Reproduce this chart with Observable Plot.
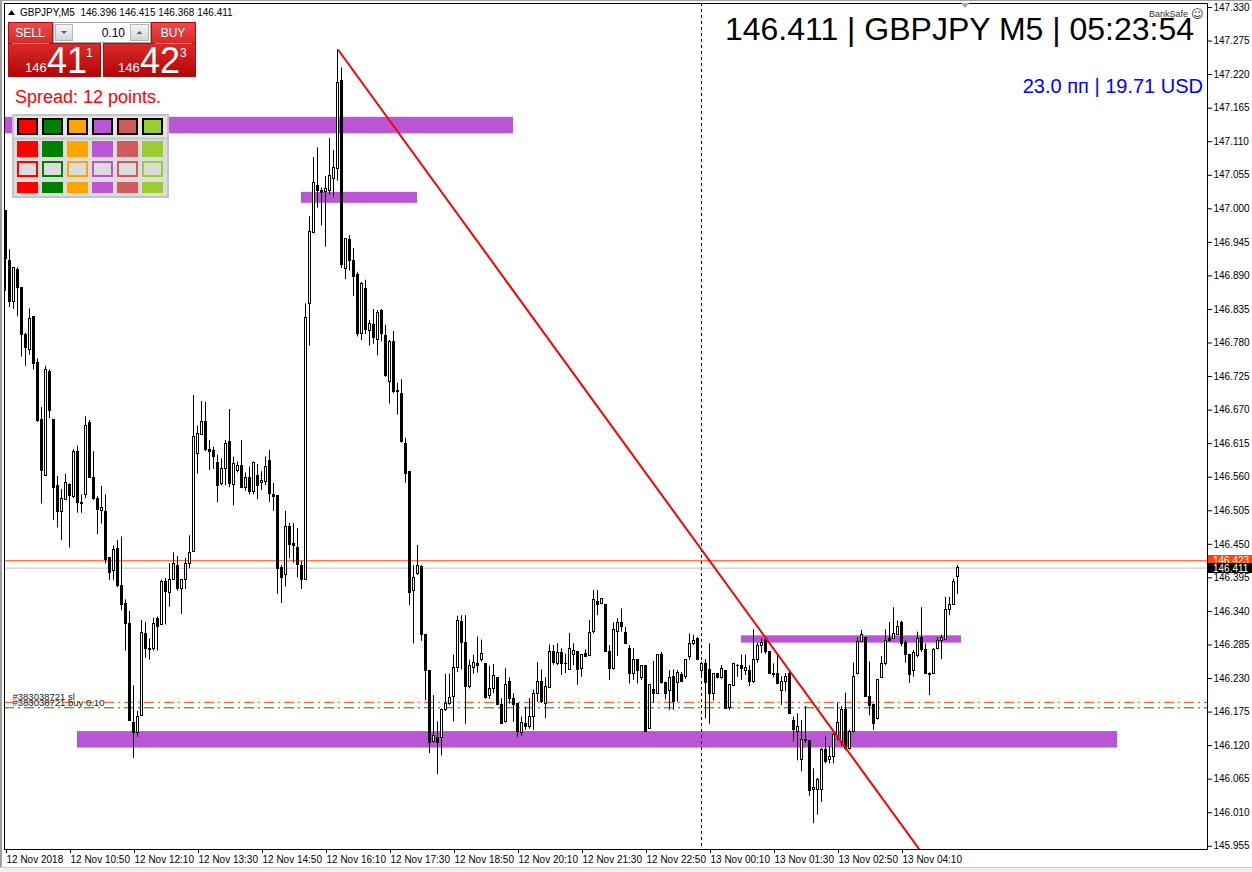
<!DOCTYPE html>
<html><head><meta charset="utf-8">
<script src="https://cdn.jsdelivr.net/npm/d3@7"></script>
<script src="https://cdn.jsdelivr.net/npm/@observablehq/plot@0.6"></script>
<style>
html,body{margin:0;padding:0;background:#fff;}
#wrap{position:relative;width:1252px;height:872px;overflow:hidden;}
#chart,#deco{position:absolute;left:0;top:0;}
#deco{pointer-events:none;}
</style></head>
<body><div id="wrap"><div id="chart"></div><svg id="deco" width="1252" height="872"></svg></div>
<script>
// ---- candle data (GBPJPY M5, 12 Nov 2018 09:30 -> 13 Nov 05:20) ----
const opens = [146.996,146.915,146.847,146.900,146.871,146.793,146.769,146.822,146.747,146.653,146.562,146.733,146.653,146.546,146.503,146.522,146.548,146.528,146.602,146.516,146.531,146.649,146.559,146.525,146.504,146.503,146.427,146.406,146.443,146.382,146.352,146.319,146.157,146.140,146.169,146.303,146.279,146.278,146.328,146.318,146.389,146.370,146.391,146.415,146.376,146.391,146.418,146.437,146.598,146.629,146.651,146.605,146.603,146.584,146.549,146.573,146.617,146.547,146.570,146.579,146.543,146.558,146.535,146.562,146.550,146.552,146.586,146.531,146.529,146.411,146.399,146.479,146.451,146.444,146.415,146.391,146.844,146.960,147.038,147.029,147.028,147.030,147.049,147.065,147.210,146.902,146.949,146.915,146.892,146.794,146.869,146.800,146.809,146.785,146.833,146.792,146.716,146.781,146.702,146.697,146.614,146.568,146.374,146.401,146.413,146.301,146.243,146.126,146.132,146.132,146.178,146.189,146.200,146.248,146.323,146.289,146.216,146.248,146.254,146.260,146.254,146.202,146.213,146.231,146.187,146.158,146.225,146.197,146.189,146.141,146.156,146.150,146.167,146.205,146.225,146.189,146.215,146.274,146.254,146.272,146.254,146.244,146.268,146.273,146.246,146.270,146.267,146.306,146.355,146.352,146.350,146.273,146.246,146.306,146.321,146.304,146.279,146.238,146.261,146.231,146.250,146.148,146.211,146.205,146.269,146.223,146.209,146.232,146.222,146.236,146.232,146.265,146.287,146.294,146.242,146.254,146.244,146.205,146.238,146.231,146.243,146.181,146.217,146.251,146.250,146.243,146.243,146.224,146.260,146.284,146.293,146.274,146.237,146.237,146.209,146.225,146.237,146.161,146.143,146.097,146.130,146.128,146.047,146.047,146.047,146.113,146.097,146.101,146.134,146.124,146.178,146.115,146.142,146.237,146.290,146.297,146.200,146.186,146.164,146.231,146.254,146.295,146.295,146.302,146.321,146.289,146.268,146.242,146.267,146.297,146.277,146.238,146.238,146.279,146.291,146.293,146.342,146.351,146.396];
const highs = [146.996,146.933,146.903,146.903,146.871,146.796,146.836,146.822,146.754,146.674,146.742,146.736,146.653,146.561,146.540,146.565,146.549,146.605,146.611,146.531,146.659,146.653,146.602,146.528,146.545,146.531,146.427,146.447,146.456,146.462,146.359,146.340,146.218,146.176,146.325,146.322,146.295,146.329,146.331,146.391,146.394,146.418,146.436,146.430,146.391,146.427,146.464,146.694,146.644,146.684,146.683,146.620,146.609,146.596,146.590,146.620,146.671,146.593,146.585,146.620,146.567,146.577,146.585,146.581,146.569,146.593,146.604,146.550,146.529,146.415,146.504,146.484,146.484,146.476,146.422,146.844,146.987,147.084,147.100,147.034,147.053,147.115,147.096,147.261,147.231,146.950,146.956,146.935,146.896,146.879,146.883,146.817,146.835,146.833,146.835,146.809,146.784,146.799,146.714,146.720,146.624,146.568,146.415,146.448,146.415,146.301,146.243,146.202,146.159,146.180,146.237,146.237,146.268,146.332,146.333,146.333,146.260,146.268,146.298,146.293,146.254,146.250,146.253,146.231,146.197,146.246,146.231,146.205,146.189,146.167,146.183,146.197,146.211,146.256,146.244,146.231,146.285,146.284,146.287,146.279,146.270,146.304,146.287,146.273,146.269,146.277,146.325,146.374,146.374,146.361,146.350,146.284,146.321,146.328,146.344,146.314,146.284,146.279,146.261,146.251,146.250,146.220,146.258,146.268,146.273,146.224,146.243,146.244,146.243,146.240,146.261,146.303,146.301,146.297,146.257,146.261,146.287,146.238,146.238,146.251,146.243,146.219,146.255,146.253,146.268,146.268,146.251,146.310,146.288,146.295,146.297,146.274,146.254,146.270,146.233,146.238,146.240,146.167,146.172,146.161,146.184,146.128,146.082,146.066,146.115,146.134,146.118,146.139,146.190,146.184,146.206,146.145,146.255,146.297,146.309,146.297,146.257,146.188,146.228,146.266,146.310,146.322,146.346,146.324,146.324,146.292,146.268,146.276,146.306,146.346,146.287,146.239,146.279,146.297,146.301,146.363,146.363,146.393,146.415];
const lows = [146.865,146.838,146.835,146.823,146.757,146.742,146.760,146.736,146.650,146.516,146.561,146.656,146.489,146.477,146.456,146.522,146.444,146.525,146.501,146.501,146.525,146.558,146.522,146.466,146.483,146.418,146.391,146.391,146.379,146.341,146.275,146.160,146.099,146.134,146.169,146.263,146.260,146.275,146.275,146.318,146.318,146.347,146.391,146.373,146.335,146.376,146.410,146.437,146.565,146.629,146.602,146.571,146.573,146.518,146.546,146.546,146.543,146.513,146.567,146.543,146.537,146.531,146.531,146.523,146.538,146.546,146.519,146.504,146.368,146.353,146.380,146.426,146.419,146.395,146.376,146.391,146.775,146.959,147.001,146.972,146.937,147.022,147.018,147.045,146.902,146.884,146.898,146.856,146.790,146.784,146.794,146.775,146.778,146.759,146.782,146.724,146.680,146.697,146.662,146.616,146.550,146.349,146.287,146.399,146.291,146.194,146.107,146.124,146.072,146.103,146.176,146.186,146.159,146.240,146.244,146.155,146.213,146.237,146.239,146.257,146.196,146.196,146.205,146.186,146.155,146.157,146.188,146.158,146.133,146.135,146.145,146.147,146.145,146.191,146.189,146.164,146.215,146.252,146.251,146.235,146.238,146.243,146.251,146.219,146.232,146.265,146.267,146.303,146.333,146.351,146.273,146.227,146.244,146.266,146.306,146.286,146.221,146.227,146.221,146.227,146.142,146.148,146.189,146.205,146.221,146.195,146.178,146.178,146.191,146.224,146.229,146.260,146.284,146.260,146.235,146.164,146.155,146.193,146.229,146.229,146.180,146.178,146.217,146.232,146.227,146.235,146.217,146.222,146.255,146.271,146.270,146.237,146.231,146.220,146.186,146.208,146.172,146.126,146.095,146.077,146.124,146.037,145.992,146.006,146.027,146.090,146.090,146.090,146.128,146.118,146.112,146.113,146.141,146.236,146.290,146.200,146.169,146.145,146.162,146.230,146.251,146.290,146.295,146.301,146.282,146.255,146.222,146.232,146.264,146.273,146.237,146.202,146.237,146.277,146.261,146.292,146.333,146.350,146.368];
const closes = [146.918,146.847,146.903,146.871,146.793,146.772,146.820,146.745,146.652,146.570,146.735,146.668,146.543,146.503,146.524,146.550,146.530,146.602,146.518,146.517,146.644,146.559,146.525,146.507,146.510,146.425,146.403,146.441,146.382,146.351,146.320,146.160,146.140,146.167,146.304,146.279,146.276,146.319,146.315,146.389,146.372,146.391,146.418,146.376,146.391,146.418,146.436,146.626,146.631,146.651,146.604,146.602,146.593,146.546,146.573,146.615,146.549,146.581,146.579,146.543,146.558,146.535,146.583,146.546,146.554,146.577,146.532,146.527,146.409,146.395,146.479,146.449,146.447,146.416,146.391,146.821,146.962,147.042,147.030,147.026,147.033,147.053,147.067,147.206,146.908,146.950,146.915,146.889,146.794,146.877,146.802,146.811,146.788,146.830,146.794,146.726,146.782,146.699,146.700,146.617,146.566,146.370,146.395,146.415,146.302,146.243,146.124,146.136,146.124,146.178,146.188,146.198,146.247,146.324,146.289,146.216,146.250,146.256,146.250,146.270,146.198,146.213,146.234,146.187,146.156,146.220,146.197,146.187,146.142,146.157,146.150,146.167,146.205,146.225,146.191,146.216,146.274,146.255,146.272,146.254,146.253,146.279,146.275,146.244,146.269,146.265,146.305,146.358,146.350,146.360,146.273,146.246,146.310,146.321,146.314,146.287,146.238,146.261,146.242,146.250,146.142,146.220,146.205,146.268,146.222,146.204,146.231,146.191,146.239,146.224,146.260,146.287,146.292,146.260,146.254,146.222,146.205,146.238,146.231,146.246,146.180,146.219,146.253,146.250,146.246,146.248,146.224,146.261,146.284,146.289,146.273,146.237,146.236,146.221,146.225,146.233,146.172,146.145,146.151,146.130,146.128,146.045,146.051,146.063,146.113,146.093,146.102,146.137,146.157,146.178,146.115,146.142,146.232,146.290,146.301,146.200,146.185,146.156,146.227,146.254,146.292,146.291,146.303,146.315,146.287,146.268,146.236,146.272,146.295,146.277,146.238,146.236,146.277,146.292,146.296,146.342,146.351,146.388,146.411];

// ---- axis ticks ----
const yTicks = [147.330,147.275,147.220,147.165,147.110,147.055,147.000,146.945,146.890,146.835,146.780,146.725,146.670,146.615,146.560,146.505,146.450,146.395,146.340,146.285,146.230,146.175,146.120,146.065,146.010,145.955];
const xTickIdx = [0,16,32,48,64,80,96,112,128,144,160,176,192,208,224];
const xTickLabels = ["12 Nov 2018","12 Nov 10:50","12 Nov 12:10","12 Nov 13:30","12 Nov 14:50","12 Nov 16:10","12 Nov 17:30","12 Nov 18:50","12 Nov 20:10","12 Nov 21:30","12 Nov 22:50","13 Nov 00:10","13 Nov 01:30","13 Nov 02:50","13 Nov 04:10"];

// ---- objects ----
const zoneStart = [0, 74, 184, 18];
const zoneEnd = [127, 103, 239, 278];
const zoneTop = [147.150, 147.027, 146.300, 146.143];
const zoneBottom = [147.123, 147.009, 146.288, 146.116];
const trendIdx = [83.25, 228.45];
const trendPrice = [147.260, 145.950];
const daySeparatorIdx = [174];
const orderLabels = ["#383038721 sl", "#383038721 buy 0.10"];
const orderPrices = [146.191, 146.182];
const orderColors = ["#FF4500", "#008000"];
const askPrice = 146.423, bidPrice = 146.411;
const paletteColors = ["#FF0000","#008000","#FFA500","#BA55D3","#CD5C5C","#9ACD32"];

const candles = opens.map((o, i) => ({i, o, h: highs[i], l: lows[i], c: closes[i]}));
const zones = zoneStart.map((s, k) => ({x1: s, x2: zoneEnd[k], y1: zoneTop[k], y2: zoneBottom[k]}));
const trend = trendIdx.map((x, k) => ({x, y: trendPrice[k]}));
const orders = orderLabels.map((t, k) => ({t, p: orderPrices[k], col: orderColors[k]}));

const FONT = "'Liberation Sans', Arial, sans-serif";
const chart = Plot.plot({
  width: 1252, height: 872,
  marginLeft: 4, marginRight: 45, marginTop: 3, marginBottom: 23,
  x: {type: "linear", domain: [-0.25, 300.5], axis: null},
  y: {type: "linear", domain: [145.9497, 147.3366], axis: null},
  style: {background: "transparent", fontFamily: FONT, fontSize: "10px", color: "black"},
  marks: [
    Plot.rect(zones, {x1: "x1", x2: "x2", y1: "y1", y2: "y2", fill: "#BA55D3"}),
    Plot.ruleX(daySeparatorIdx, {stroke: "black", strokeDasharray: "3,3"}),
    Plot.ruleY(orders, {y: "p", stroke: "col", strokeDasharray: "10,4,2,4"}),
    Plot.ruleY([bidPrice], {stroke: "#C0C0C0"}),
    Plot.ruleY([askPrice], {stroke: "#FF4500"}),
    Plot.ruleX(candles, {x: "i", y1: "l", y2: "h", stroke: "black"}),
    Plot.rect(candles, {x1: d => d.i - 0.25, x2: d => d.i + 0.25, y1: "o", y2: "c",
      fill: d => d.c >= d.o ? "white" : "black", stroke: "black", shapeRendering: "crispEdges"}),
    Plot.line(trend, {x: "x", y: "y", stroke: "#FF0000", strokeWidth: 2, clip: true}),
    Plot.text(orders, {x: 1.75, y: "p", text: "t", textAnchor: "start", dy: -5, fontSize: 9.5, fill: "#222"}),
    Plot.frame({stroke: "black"}),
    Plot.axisY(yTicks, {anchor: "right", tickSize: 4, tickPadding: 2, tickFormat: d => d.toFixed(3), label: null, fontSize: 10}),
    Plot.axisX(xTickIdx, {anchor: "bottom", tickSize: 4, tickPadding: 2, textAnchor: "start", dx: 1,
      tickFormat: d => xTickLabels[xTickIdx.indexOf(d)], label: null, fontSize: 10})
  ]
});
document.getElementById("chart").appendChild(chart);

// ---- price tags on the right axis (placed with the chart's y scale) ----
const ys = chart.scale("y");
const svg = d3.select(chart);
[[askPrice, "#FF4500"], [bidPrice, "#000000"]].forEach(([p, col]) => {
  const y = Math.round(ys.apply(p));
  svg.append("rect").attr("x", 1208).attr("y", y - 5).attr("width", 44).attr("height", 10).attr("fill", col);
  svg.append("text").attr("x", 1213).attr("y", y + 4).attr("fill", "white").attr("font-size", 10)
    .attr("text-anchor", "start").attr("font-family", FONT).text(p.toFixed(3));
});

// ---- terminal decorations ----
const deco = d3.select("#deco");
const defs = deco.append("defs");
function grad(id, stops) {
  const g = defs.append("linearGradient").attr("id", id).attr("x1", 0).attr("y1", 0).attr("x2", 0).attr("y2", 1);
  stops.forEach(([o, c]) => g.append("stop").attr("offset", o).attr("stop-color", c));
}
grad("gBtn", [[0, "#ec4b4b"], [1, "#d52a2a"]]);
grad("gPrice", [[0, "#dc2a2a"], [1, "#b00606"]]);
grad("gGray", [[0, "#f6f6f6"], [1, "#d4d4d4"]]);
function txt(x, y, s, size, fill, anchor, family) {
  return deco.append("text").attr("x", x).attr("y", y).attr("font-size", size).attr("fill", fill)
    .attr("text-anchor", anchor || "start").attr("font-family", family || FONT).style("white-space", "pre").text(s);
}
// window borders
deco.append("rect").attr("x", 0).attr("y", 0).attr("width", 2).attr("height", 872).attr("fill", "#a0a0a0");
deco.append("rect").attr("x", 0).attr("y", 0).attr("width", 1252).attr("height", 1).attr("fill", "#a0a0a0");
deco.append("rect").attr("x", 0).attr("y", 867).attr("width", 1252).attr("height", 5).attr("fill", "#f0f0f0");
deco.append("rect").attr("x", 0).attr("y", 867).attr("width", 1252).attr("height", 1).attr("fill", "#c8c8c8");
// header
deco.append("path").attr("d", "M8,15 L11.5,10 L15,15 Z").attr("fill", "black");
txt(20, 16, "GBPJPY,M5  146.396 146.415 146.368 146.411", 10, "black");
deco.append("path").attr("d", "M961,3 L969,3 L965,8 Z").attr("fill", "#a8a8a8");
// one click trading
deco.append("rect").attr("x", 8.5).attr("y", 22.5).attr("width", 44).attr("height", 21).attr("fill", "url(#gBtn)").attr("stroke", "#a81010");
deco.append("rect").attr("x", 151.5).attr("y", 22.5).attr("width", 44).attr("height", 21).attr("fill", "url(#gBtn)").attr("stroke", "#a81010");
deco.append("rect").attr("x", 8.5).attr("y", 43.5).attr("width", 92).attr("height", 33).attr("fill", "url(#gPrice)").attr("stroke", "#a81010");
deco.append("rect").attr("x", 103.5).attr("y", 43.5).attr("width", 92).attr("height", 33).attr("fill", "url(#gPrice)").attr("stroke", "#a81010");
deco.append("line").attr("x1", 12).attr("x2", 49).attr("y1", 43.5).attr("y2", 43.5).attr("stroke", "#f08080");
deco.append("line").attr("x1", 155).attr("x2", 192).attr("y1", 43.5).attr("y2", 43.5).attr("stroke", "#f08080");
txt(30, 37, "SELL", 12, "white", "middle");
txt(173, 37, "BUY", 12, "white", "middle");
deco.append("rect").attr("x", 53.5).attr("y", 22.5).attr("width", 97).attr("height", 20).attr("fill", "white").attr("stroke", "#a8a8a8");
deco.append("rect").attr("x", 55.5).attr("y", 24.5).attr("width", 17).attr("height", 16).attr("fill", "url(#gGray)").attr("stroke", "#b8b8b8");
deco.append("rect").attr("x", 130.5).attr("y", 24.5).attr("width", 18).attr("height", 16).attr("fill", "url(#gGray)").attr("stroke", "#b8b8b8");
deco.append("path").attr("d", "M61,31 L67,31 L64,34 Z").attr("fill", "#4a5ca8");
deco.append("path").attr("d", "M136.5,34 L142.5,34 L139.5,31 Z").attr("fill", "#4a5ca8");
txt(125, 37, "0.10", 12, "black", "end");
txt(25, 72, "146", 13, "white");
txt(47, 73, "41", 36, "white");
txt(86, 57, "1", 12, "white");
txt(118, 72, "146", 13, "white");
txt(140, 73, "42", 36, "white");
txt(180, 57, "3", 12, "white");
txt(15, 103, "Spread: 12 points.", 18, "#FF0000");
// colour palette
deco.append("rect").attr("x", 13).attr("y", 115).attr("width", 155).attr("height", 82).attr("fill", "#dcdcdc").attr("stroke", "#c4c4c4").attr("stroke-width", 2);
deco.append("rect").attr("x", 14).attr("y", 116).attr("width", 153).attr("height", 22).attr("fill", "#e4e4e4");
deco.append("line").attr("x1", 14).attr("x2", 167).attr("y1", 138.5).attr("y2", 138.5).attr("stroke", "#c4c4c4").attr("stroke-width", 2);
paletteColors.forEach((c, k) => {
  const x = 17 + 25 * k;
  deco.append("rect").attr("x", x + 1).attr("y", 119).attr("width", 19).attr("height", 15).attr("fill", c).attr("stroke", "black").attr("stroke-width", 2);
  deco.append("rect").attr("x", x).attr("y", 141).attr("width", 21).attr("height", 16).attr("fill", c);
  deco.append("rect").attr("x", x + 1).attr("y", 162).attr("width", 19).attr("height", 14).attr("fill", "#dcdcdc").attr("stroke", c).attr("stroke-width", 2);
  deco.append("rect").attr("x", x).attr("y", 182).attr("width", 21).attr("height", 11).attr("fill", c);
});
// info texts (top right)
txt(1194, 40, "146.411 | GBPJPY M5 | 05:23:54", 32, "black", "end");
txt(1203, 93, "23.0 пп | 19.71 USD", 20, "#0000FF", "end");
txt(1149, 17, "BankSafe", 9, "#333");
txt(1191, 18, "☺", 12, "#333", "start", "DejaVu Sans");
</script>
</body></html>
